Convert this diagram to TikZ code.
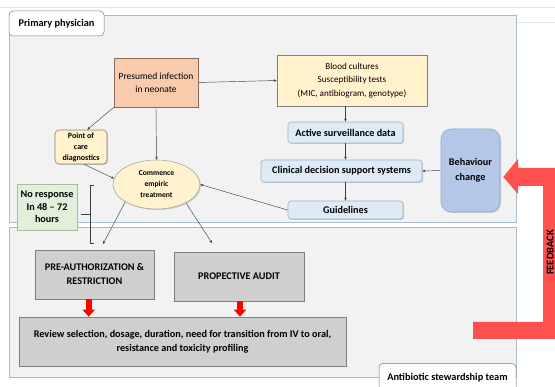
\documentclass[tikz,border=0pt]{standalone}
\usepackage{fontspec}
\setmainfont{Carlito}
\usetikzlibrary{arrows.meta,shapes.geometric,shadows,calc}
\definecolor{panelfill}{HTML}{F2F2F2}
\definecolor{paneldraw}{HTML}{A9BCCD}
\definecolor{salmon}{HTML}{F8CBAD}
\definecolor{salmondraw}{HTML}{8A6A58}
\definecolor{cream}{HTML}{FFF2CC}
\definecolor{creamdraw}{HTML}{8C8270}
\definecolor{ltblue}{HTML}{DEEBF7}
\definecolor{ltbluedraw}{HTML}{9FB4C8}
\definecolor{midblue}{HTML}{B4C7E7}
\definecolor{midbluedraw}{HTML}{8FAADC}
\definecolor{ltgreen}{HTML}{E2EFDA}
\definecolor{greendraw}{HTML}{A5BE96}
\definecolor{boxgray}{HTML}{D0CECE}
\definecolor{boxgraydraw}{HTML}{7F7F7F}
\definecolor{fbred}{HTML}{FF5050}
\definecolor{linegray}{HTML}{404040}
\tikzset{
  panel/.style={draw=paneldraw, fill=panelfill, line width=0.8pt},
  tag/.style={draw=linegray!70, fill=white, rounded corners=4pt, line width=0.5pt, inner sep=0pt, font=\fontsize{10.3}{11}\selectfont\bfseries},
  shadowed/.style={drop shadow={shadow xshift=1pt, shadow yshift=-1pt, opacity=0.35, fill=gray}},
  box/.style={inner sep=0pt, align=center, line width=0.6pt, shadowed},
  conn/.style={draw=linegray, line width=0.45pt, -{Stealth[length=3pt,width=2.6pt]}},
  bigred/.style={draw=red, line width=6pt, -{Triangle[length=7pt,width=12pt]}},
}
\begin{document}
\begin{tikzpicture}[x=1pt,y=-1pt]
\useasboundingbox (0,0) rectangle (555,387);
\clip (0,0) rectangle (555,387);
% faint top lines
\draw[gray!20, line width=0.6pt] (0,7) -- (555,7);
\draw[gray!20, line width=0.6pt] (517,22) -- (555,22);
% panels
\draw[panel] (9.5,15) rectangle (516,222);
\draw[panel] (9,227) rectangle (516,377);
% labels
\node[tag, minimum width=95pt, minimum height=25pt] (prim) at (56.5,23.5) {Primary physician};
\node[tag, minimum width=137pt, minimum height=28pt] (team) at (447.5,377.5) {Antibiotic stewardship team};
% nodes
\node[box, draw=salmondraw, fill=salmon, minimum width=84pt, minimum height=49pt, font=\fontsize{9.5}{13}\selectfont] (pres) at (156,82.5) {Presumed infection\\in neonate};
\node[box, draw=boxgraydraw, fill=cream, minimum width=150pt, minimum height=51pt, font=\fontsize{9.1}{13.5}\selectfont] (blood) at (352,80.5) {Blood cultures\\Susceptibility tests\\(MIC, antibiogram, genotype)};
\node[box, draw=ltbluedraw, fill=ltblue, rounded corners=3pt, minimum width=115pt, minimum height=21pt, font=\fontsize{10.2}{11}\selectfont\bfseries] (act) at (345.5,132.5) {Active surveillance data};
\node[box, draw=ltbluedraw, fill=ltblue, rounded corners=3pt, minimum width=161pt, minimum height=22pt, font=\fontsize{10.2}{11}\selectfont\bfseries] (clin) at (341.5,171) {Clinical decision support systems};
\node[box, draw=ltbluedraw, fill=ltblue, rounded corners=3pt, minimum width=115pt, minimum height=18pt, font=\fontsize{10.2}{11}\selectfont\bfseries] (guide) at (345.5,210) {Guidelines};
\node[box, draw=midbluedraw, fill=midblue, rounded corners=10pt, minimum width=59pt, minimum height=83pt, font=\fontsize{10.2}{15}\selectfont\bfseries] (behav) at (470.5,170.5) {Behaviour\\change};
\node[box, draw=creamdraw, fill=cream, rounded corners=4pt, minimum width=52pt, minimum height=34pt, font=\fontsize{8}{11}\selectfont\bfseries] (poc) at (81,147) {Point of\\care\\diagnostics};
\node[ellipse, inner sep=0pt, align=center, line width=0.6pt, shadowed, draw=gray!70, fill=cream, minimum width=87pt, minimum height=49pt, font=\fontsize{7.6}{11}\selectfont\bfseries] (emp) at (156.5,184.5) {Commence\\empiric\\treatment};
\node[box, draw=greendraw, fill=ltgreen, minimum width=60pt, minimum height=46pt, font=\fontsize{10.2}{12.5}\selectfont\bfseries] (nores) at (47,207) {No response\\In 48 -- 72\\hours};
\node[box, draw=boxgraydraw, fill=boxgray, minimum width=119pt, minimum height=49pt, font=\fontsize{10.2}{14}\selectfont\bfseries] (pre) at (94.5,274.5) {PRE-AUTHORIZATION \&\\RESTRICTION};
\node[box, draw=boxgraydraw, fill=boxgray, minimum width=130pt, minimum height=49pt, font=\fontsize{10.2}{11}\selectfont\bfseries] (prop) at (239,276.5) {PROPECTIVE AUDIT};
\node[box, draw=boxgraydraw, fill=boxgray, minimum width=327pt, minimum height=49pt, font=\fontsize{10.2}{14}\selectfont\bfseries] (rev) at (182.5,341.5) {Review selection, dosage, duration, need for transition from IV to oral,\\resistance and toxicity profiling};
% connectors
\draw[conn] (pres.east) -- (blood.west);
\draw[conn] (pres.south west) -- (poc.70);
\draw[conn] (pres.south) -- (emp.north);
\draw[conn] (poc.-80) -- (emp.172);
\draw[conn] (guide.west) -- (emp.east);
\draw[conn] (act.north |- blood.south) -- (act.north);
\draw[conn] (act.south) -- (act.south |- clin.north);
\draw[conn] (guide.north |- clin.south) -- (guide.north);
\draw[conn] (behav.west) -- (clin.east);
\coordinate (pretip) at (103,244);
\coordinate (proptip) at (212,243);
\draw[conn] (emp.-151) -- (pretip);
\draw[conn] (emp.-32) -- (proptip);
% bracket
\coordinate (bt) at (90,186);
\coordinate (bb) at (90,244);
\coordinate (bm) at (90,215);
\coordinate (bl) at (81,215);
\draw[linegray, line width=1pt] ($(bt)+(3.5,0)$) -- (bt) -- (bb) -- ($(bb)+(3.5,0)$);
\draw[linegray, line width=1pt] (bm) -- (bl);
% red arrows
\coordinate (ax1) at (88.7,0);
\coordinate (ax2) at (240,0);
\draw[bigred] (pre.south -| ax1) -- (rev.north -| ax1);
\draw[bigred] (prop.south -| ax2) -- (rev.north -| ax2);
% feedback arrow
\coordinate (fbtip) at ($(behav.east)+(3,6.5)$);
\fill[fbred] (fbtip) -- (518,159) -- (518,168) -- (556,168) -- (556,339) -- (473,339) -- (473,322) -- (543,322) -- (543,186) -- (518,186) -- (518,194) -- cycle;
\node[rotate=90, font=\fontsize{10.5}{11}\selectfont\bfseries, inner sep=0pt] (fb) at (550.2,252.5) {FEEDBACK};
\end{tikzpicture}
\end{document}
